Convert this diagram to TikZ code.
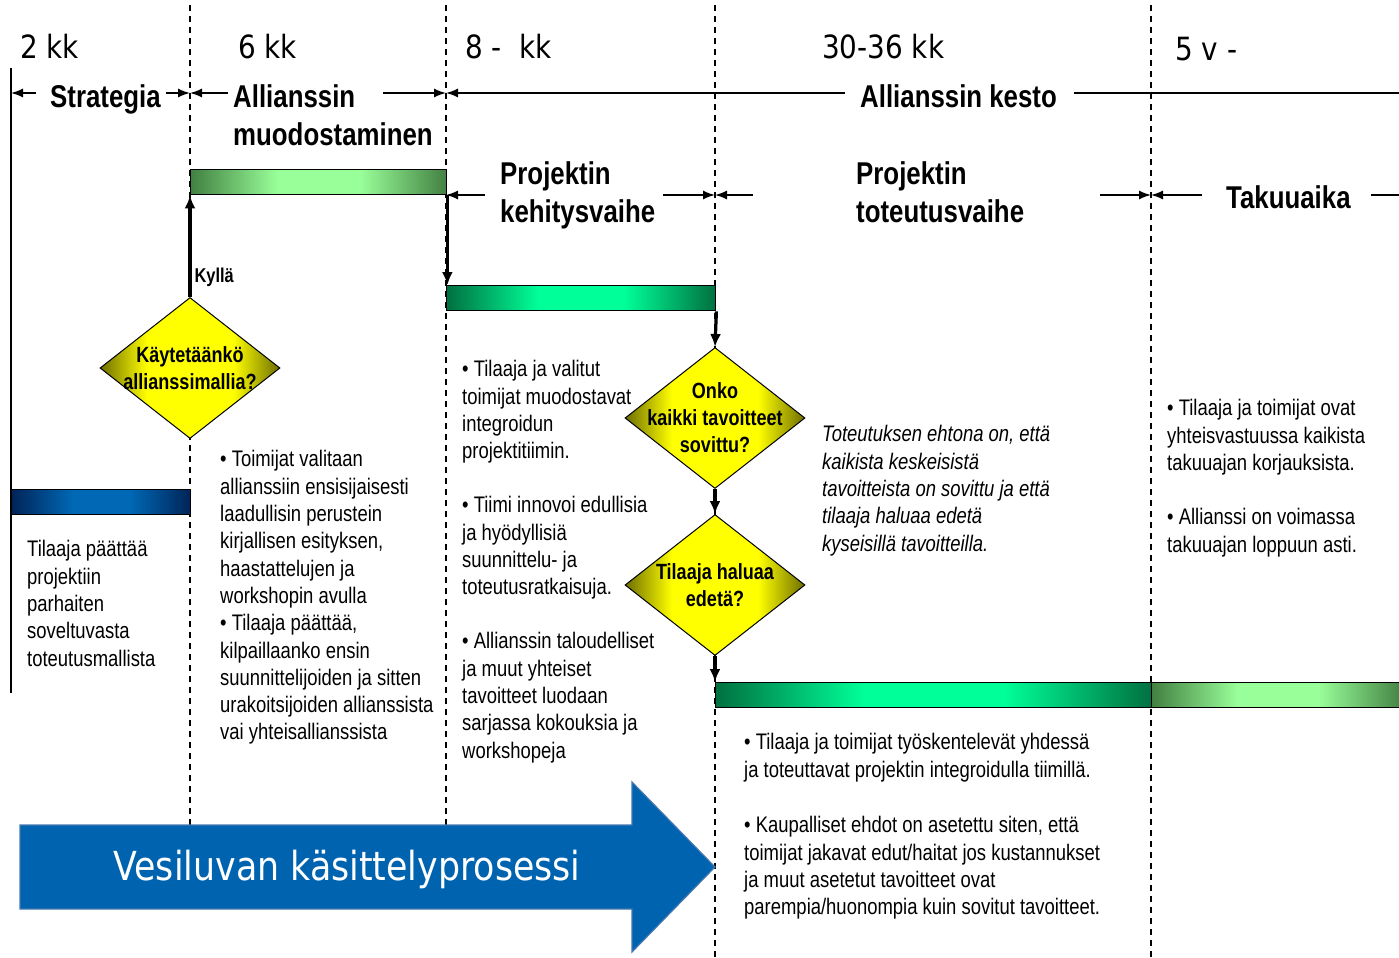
\documentclass[tikz,border=0pt]{standalone}
\usepackage{fontspec}
\setmainfont{Liberation Sans}
\newfontfamily\narrowfont[FakeStretch=0.82]{Liberation Sans}
\newfontfamily\tahfont[FakeStretch=0.87]{DejaVu Sans}
\usepackage{tikz}
\usetikzlibrary{arrows.meta,shapes.geometric}

\definecolor{lgend}{RGB}{66,128,66}
\definecolor{lgmid}{RGB}{153,255,153}
\definecolor{sgend}{RGB}{0,112,64}
\definecolor{sgmid}{RGB}{0,255,153}
\definecolor{blend}{RGB}{0,36,88}
\definecolor{blmid}{RGB}{0,104,180}
\definecolor{yeend}{RGB}{110,110,0}
\definecolor{yemid}{RGB}{255,255,0}
\definecolor{arrowblue}{RGB}{0,99,175}
\definecolor{arrowedge}{RGB}{70,120,175}

\pgfdeclarehorizontalshading{lightbar}{100bp}{color(0bp)=(lgend); color(25bp)=(lgend); color(42bp)=(lgmid); color(58bp)=(lgmid); color(75bp)=(lgend); color(100bp)=(lgend)}
\pgfdeclarehorizontalshading{springbar}{100bp}{color(0bp)=(sgend); color(25bp)=(sgend); color(42bp)=(sgmid); color(58bp)=(sgmid); color(75bp)=(sgend); color(100bp)=(sgend)}
\pgfdeclarehorizontalshading{bluebar}{100bp}{color(0bp)=(blend); color(25bp)=(blend); color(42bp)=(blmid); color(58bp)=(blmid); color(75bp)=(blend); color(100bp)=(blend)}
\pgfdeclarehorizontalshading{yellowdia}{100bp}{color(0bp)=(yeend); color(25bp)=(yeend); color(38bp)=(yemid); color(62bp)=(yemid); color(75bp)=(yeend); color(100bp)=(yeend)}

\newcommand\txtfont{\narrowfont\fontsize{22.5bp}{27.3bp}\selectfont}
\newcommand\headfont{\narrowfont\bfseries\fontsize{31.5bp}{38bp}\selectfont}
\newcommand\decfont{\narrowfont\bfseries\fontsize{22bp}{27bp}\selectfont}
\newcommand\numfont{\tahfont\fontsize{32bp}{38bp}\selectfont}

\begin{document}
\begin{tikzpicture}[
  guide/.style={dash pattern=on 6bp off 5bp,line width=1.2bp},
  dim/.style={line width=1.5bp,-{Latex[length=12bp,width=9bp]}},
  flow/.style={line width=3.2bp,-{Latex[length=13bp,width=11bp]}},
  bar/.style={draw,shade,line width=1.4bp,inner sep=0pt,anchor=north west,minimum height=25bp},
  dec/.style={draw,shade,shading=yellowdia,diamond,line width=1bp,inner sep=0pt,minimum width=180bp,minimum height=141bp},
  dectext/.style={align=center,inner sep=0pt,font=\decfont},
  head/.style={anchor=north west,align=left,inner sep=0pt,font=\headfont},
  txt/.style={anchor=north west,align=left,inner sep=0pt,font=\txtfont},
  num/.style={anchor=base west,inner sep=0pt,font=\numfont},
]
\path[fill=white] (0bp,0bp) rectangle (1399bp,-958bp);
\useasboundingbox (0bp,0bp) rectangle (1399bp,-958bp);

% phase borders
\draw[guide] (190bp,-5bp) -- (190bp,-825bp);
\draw[guide] (446bp,-5bp) -- (446bp,-825bp);
\draw[guide] (715bp,-5bp) -- (715bp,-958bp);
\draw[guide] (1151bp,-5bp) -- (1151bp,-958bp);
\draw[line width=1.4bp] (11bp,-68bp) -- (11bp,-693bp);

% durations
\node (n1) at (20bp,-58bp)[num] {2 kk};
\node (n2) at (238bp,-58bp)[num] {6 kk};
\node (n3) at (465bp,-58bp)[num] {8 -\ \ kk};
\node (n4) at (822bp,-58bp)[num] {30-36 kk};
\node (n5) at (1175bp,-60bp)[num] {5 v -};

% phase names
\node (strat) at (50bp,-84.4bp)[head] {Strategia};
\node (allmuod) at (233bp,-84.4bp)[head] {Allianssin\\muodostaminen};
\node (kesto) at (860bp,-84.4bp)[head] {Allianssin kesto};
\node (kehit) at (500bp,-161.4bp)[head] {Projektin\\kehitysvaihe};
\node (toteut) at (856bp,-161.4bp)[head] {Projektin\\toteutusvaihe};
\node (takuu) at (1226bp,-185.4bp)[head] {Takuuaika};

\coordinate (k0) at (11bp,-93bp);
\coordinate (k1) at (190bp,-93bp);
\coordinate (k2) at (446bp,-93bp);
\coordinate (ke) at (1399bp,-93bp);
\coordinate (m1) at (383bp,-93bp);
\coordinate (p2) at (446bp,-195bp);
\coordinate (p3) at (715bp,-195bp);
\coordinate (p4) at (1151bp,-195bp);
\coordinate (pe) at (1399bp,-195bp);
\coordinate (t1) at (753bp,-195bp);
\coordinate (t2) at (1100bp,-195bp);

\draw[dim,shorten <=14bp] (strat.west |- k0) -- (k0);
\draw[dim,shorten <=5bp] (strat.east |- k1) -- (k1);
\draw[dim,shorten <=5bp] (allmuod.west |- k1) -- (k1);
\draw[dim] (m1) -- (k2);
\draw[dim,shorten <=15bp] (kesto.west |- k2) -- (k2);
\draw[line width=1.5bp,shorten <=17bp] (kesto.east |- ke) -- (ke);
\draw[dim,shorten <=15bp] (kehit.west |- p2) -- (p2);
\draw[dim,shorten <=8bp] (kehit.east |- p3) -- (p3);
\draw[dim] (t1) -- (p3);
\draw[dim] (t2) -- (p4);
\draw[dim,shorten <=24bp] (takuu.west |- p4) -- (p4);
\draw[line width=1.5bp,shorten <=20bp] (takuu.east |- pe) -- (pe);

% bars
\node (b1) at (190bp,-169bp)[bar,shading=lightbar,minimum width=256bp] {};
\node (b2) at (446bp,-285bp)[bar,shading=springbar,minimum width=269bp] {};
\node (bl) at (11bp,-489bp)[bar,shading=bluebar,minimum width=179bp] {};
\node (b3) at (715bp,-682bp)[bar,shading=springbar,minimum width=436bp] {};
\node (b4) at (1151bp,-682bp)[bar,shading=lightbar,minimum width=252bp] {};

% decisions
\node (d1) at (190bp,-368bp)[dec] {};
\node (d1txt) at (d1)[dectext] {Käytetäänkö\\allianssimallia?};
\node (d2) at (715bp,-418bp)[dec] {};
\node (d2txt) at (d2)[dectext] {Onko\\kaikki tavoitteet\\sovittu?};
\node (d3) at (715bp,-585bp)[dec] {};
\node (d3txt) at (d3)[dectext] {Tilaaja haluaa\\edetä?};

\draw[flow] (d1.north) -- node[pos=0.19,anchor=west,inner sep=3bp,font=\narrowfont\bfseries\fontsize{20bp}{24bp}\selectfont] (kylla) {Kyllä} (d1.north |- b1.south);
\draw[flow] (b1.south east) -- (b1.south east |- b2.north);
\draw[flow] (b2.south east) -- (d2.north);
\draw[flow] (d2.south) -- (d3.north);
\draw[flow] (d3.south) -- (d3.south |- b3.north);

% texts
\node (c1txt) at (27bp,-540.4bp)[txt] {Tilaaja päättää\\projektiin\\parhaiten\\soveltuvasta\\toteutusmallista};
\node (c2txt) at (220bp,-450.4bp)[txt] {• Toimijat valitaan\\allianssiin ensisijaisesti\\laadullisin perustein\\kirjallisen esityksen,\\haastattelujen ja\\workshopin avulla\\• Tilaaja päättää,\\kilpaillaanko ensin\\suunnittelijoiden ja sitten\\urakoitsijoiden allianssista\\vai yhteisallianssista};
\node (c3a) at (462bp,-360.4bp)[txt] {• Tilaaja ja valitut\\toimijat muodostavat\\integroidun\\projektitiimin.};
\node (c3b) at (462bp,-496.4bp)[txt] {• Tiimi innovoi edullisia\\ja hyödyllisiä\\suunnittelu- ja\\toteutusratkaisuja.};
\node (c3c) at (462bp,-632.4bp)[txt] {• Allianssin taloudelliset\\ja muut yhteiset\\tavoitteet luodaan\\sarjassa kokouksia ja\\workshopeja};
\node (ital) at (822bp,-425.4bp)[txt,font=\txtfont\itshape] {Toteutuksen ehtona on, että\\kaikista keskeisistä\\tavoitteista on sovittu ja että\\tilaaja haluaa edetä\\kyseisillä tavoitteilla.};
\node (r1) at (1167bp,-399.4bp)[txt] {• Tilaaja ja toimijat ovat\\yhteisvastuussa kaikista\\takuuajan korjauksista.};
\node (r2) at (1167bp,-508.4bp)[txt] {• Allianssi on voimassa\\takuuajan loppuun asti.};
\node (bot1) at (744bp,-733.4bp)[txt] {• Tilaaja ja toimijat työskentelevät yhdessä\\ja toteuttavat projektin integroidulla tiimillä.};
\node (bot2) at (744bp,-816.4bp)[txt] {• Kaupalliset ehdot on asetettu siten, että\\toimijat jakavat edut/haitat jos kustannukset\\ja muut asetetut tavoitteet ovat\\parempia/huonompia kuin sovitut tavoitteet.};

% process arrow
\fill[arrowblue,draw=arrowedge,line width=1.2bp] (20bp,-825bp) -- (632bp,-825bp) -- (632bp,-782bp) -- (715bp,-867bp) -- (632bp,-952bp) -- (632bp,-909bp) -- (20bp,-909bp) -- cycle;
\node (proc) at (347bp,-869bp)[text=white,font=\tahfont\fontsize{40bp}{48bp}\selectfont] {Vesiluvan käsittelyprosessi};
\end{tikzpicture}
\end{document}
